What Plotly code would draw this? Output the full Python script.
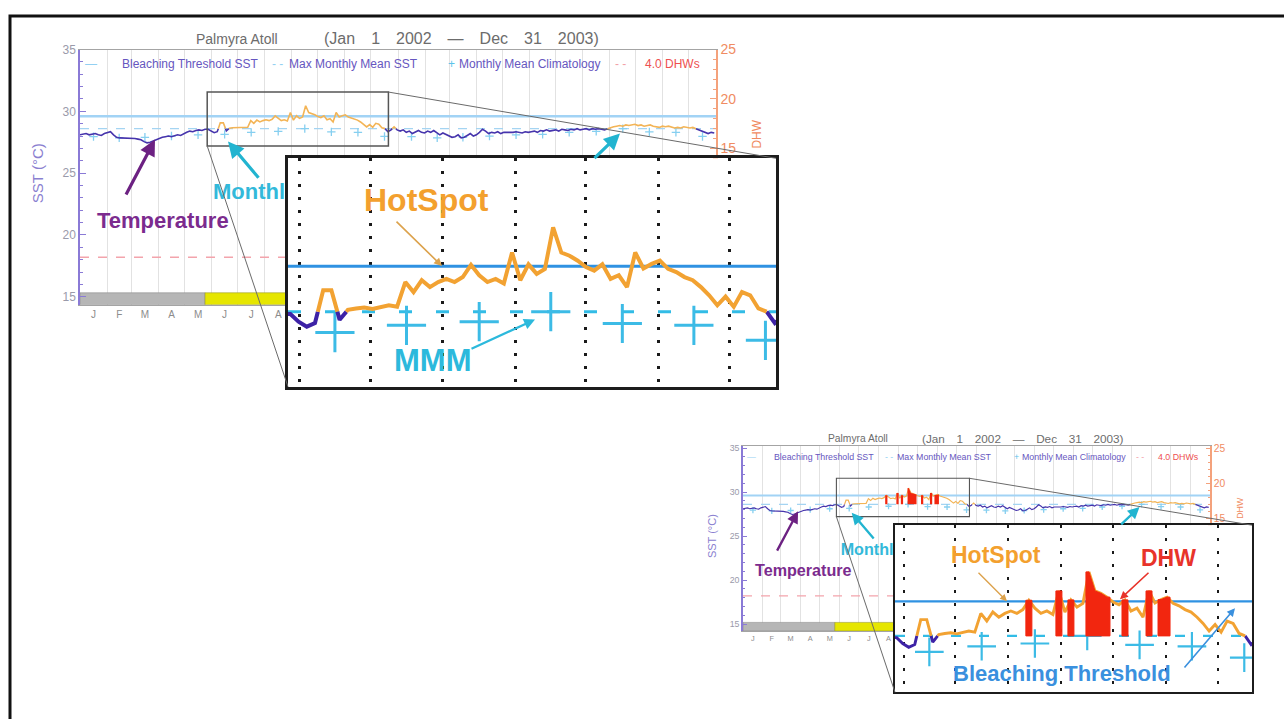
import datetime as dt
import plotly.graph_objects as go

W, H = 1284, 719
FONT = "Liberation Sans, Arial, Helvetica, sans-serif"

# ---------------------------------------------------------------- data
STATION = "Palmyra Atoll"
YEARS = [2002, 2003]
MONTH_LETTERS = ["J", "F", "M", "A", "M", "J", "J", "A", "S", "O", "N", "D"]
SST_TICKS = [15, 20, 25, 30, 35]
DHW_TICKS = [0, 5, 10, 15, 20, 25]

STEP_DAYS = 3.5  # twice-weekly SST composites, first one on 1 Jan 2002
sst = [
    28.10, 28.15, 28.20, 28.10, 28.15, 28.20, 28.10, 28.05, 28.20, 28.30,
    28.35, 28.10, 27.90, 27.85, 27.85, 27.80, 27.85, 27.80, 27.80, 27.75,
    27.70, 27.55, 27.45, 27.50, 27.60, 27.75, 27.85, 27.90, 27.95, 28.00,
    27.95, 28.05, 28.10, 28.05, 28.20, 28.30, 28.40, 28.35, 28.45, 28.50,
    28.45, 28.55, 28.55, 28.38, 28.27, 28.35, 29.07, 29.07, 28.42, 28.64,
    28.67, 28.69, 28.66, 28.71, 28.74, 28.71, 29.25, 29.03, 29.29, 29.14,
    29.25, 29.32, 29.25, 29.36, 29.63, 29.40, 29.25, 29.32, 29.22, 29.90,
    29.29, 29.64, 29.43, 29.54, 30.45, 29.90, 29.83, 29.72, 29.58, 29.50,
    29.64, 29.32, 29.40, 29.14, 29.90, 29.55, 29.65, 29.72, 29.54, 29.47,
    29.36, 29.29, 29.14, 28.96, 28.74, 28.93, 28.71, 29.03, 28.96, 28.67,
    28.60, 28.35, 28.50, 28.75, 28.50, 28.40, 28.50, 28.30, 28.40, 28.20,
    28.35, 28.45, 28.30, 28.25, 28.40, 28.30, 28.45, 28.30, 28.10, 28.25,
    28.15, 28.00, 27.90, 27.95, 28.10, 27.85, 27.90, 28.05, 28.20, 28.00,
    28.10, 28.30, 28.55, 28.40, 28.20, 28.30, 28.25, 28.35, 28.20, 28.30,
    28.30, 28.25, 28.30, 28.35, 28.30, 28.25, 28.35, 28.30, 28.35, 28.40,
    28.30, 28.45, 28.40, 28.50, 28.40, 28.45, 28.50, 28.40, 28.55, 28.50,
    28.45, 28.55, 28.50, 28.60, 28.50, 28.55, 28.60, 28.50, 28.60, 28.55,
    28.60, 28.55, 28.50, 28.60, 28.70, 28.75, 28.80, 28.85, 28.80, 28.90,
    28.85, 28.90, 28.95, 28.85, 28.90, 28.80, 28.85, 28.90, 28.80, 28.75,
    28.70, 28.80, 28.75, 28.80, 28.70, 28.65, 28.70, 28.65, 28.75, 28.70,
    28.65, 28.70, 28.60, 28.50, 28.40, 28.30, 28.20, 28.30, 28.25,
]

# monthly mean climatology, Jan..Dec
climatology = [27.95, 27.85, 27.90, 28.00, 28.10, 28.14, 28.30, 28.38, 28.60, 28.34, 28.30, 27.97]
MMM = 28.6
BLEACHING_THRESHOLD = 29.6
DHW_ALERT = 4.0

# stress level runs over the SST samples: (first sample, last sample, level)
stress_runs = [(0, 40, 0), (41, 103, 1), (104, 173, 0), (174, 208, 1)]
STRESS_NAMES = ["No Stress", "Bleaching Watch"]

ZOOM_START = dt.date(2002, 5, 27)
ZOOM_END = dt.date(2002, 12, 21)
ZOOM_BOX_SST = (27.2, 31.56)

# ---------------------------------------------------------------- styles
PURPLE_AXIS = "#8a7ad6"
ORANGE_AXIS = "#f4a27c"
SST_LOW = "#3d22a6"
SST_HIGH = "#f2a232"
THR_LIGHT = "#a2d3f5"
THR_DARK = "#2f92e2"
MMM_LIGHT = "#a4d4f2"
MMM_DARK = "#32bce6"
CLIM = "#3cbbe6"
DHW_FILL = "#f2260f"
LEG_TXT = "#6656c0"
STRESS_COLORS = ["#b6b6b6", "#e6e600"]
STRESS_EDGES = ["#8c8c8c", "#9a9a30"]

ORIGIN = dt.date(2002, 1, 1)


def day_of(d):
    return (d - ORIGIN).days


month_starts = [day_of(dt.date(y, m, 1)) for y in YEARS for m in range(1, 13)]
DAYS_TOTAL = day_of(dt.date(YEARS[-1] + 1, 1, 1))
month_edges = month_starts + [DAYS_TOTAL]
month_mids = [(a + b) / 2 for a, b in zip(month_edges[:-1], month_edges[1:])]
year_mids = [(day_of(dt.date(y, 1, 1)) + day_of(dt.date(y + 1, 1, 1))) / 2 for y in YEARS]
sample_days = [STEP_DAYS * i for i in range(len(sst))]
ZOOM_X = (day_of(ZOOM_START), day_of(ZOOM_END))


def with_crossings(xs, ys, level):
    pts = []
    for k, (x, y) in enumerate(zip(xs, ys)):
        if k:
            x0, y0 = xs[k - 1], ys[k - 1]
            if (y0 - level) * (y - level) < 0:
                f = (level - y0) / (y - y0)
                pts.append((x0 + f * (x - x0), level))
        pts.append((x, y))
    return pts


def split_at(xs, ys, level):
    pts = with_crossings(xs, ys, level)
    hi, lo = ([], []), ([], [])
    for (xa, ya), (xb, yb) in zip(pts, pts[1:]):
        tgt = hi if (ya + yb) / 2 > level else lo
        if not tgt[0] or tgt[0][-1] != xa:
            if tgt[0]:
                tgt[0].append(None)
                tgt[1].append(None)
            tgt[0].append(xa)
            tgt[1].append(ya)
        tgt[0].append(xb)
        tgt[1].append(yb)
    return hi, lo


def hot_blocks(xs, ys, level, base, half):
    """Filled blocks from the MMM up to the SST for runs of samples at or above the threshold."""
    px, py, run = [], [], []
    for x, y in list(zip(xs, ys)) + [(None, None)]:
        if y is not None and y >= level:
            run.append((x, y))
        else:
            if run:
                x0, x1 = run[0][0] - half, run[-1][0] + half
                px += [x0, x0] + [p[0] for p in run] + [x1, x1, x0, None]
                py += [base, run[0][1]] + [p[1] for p in run] + [run[-1][1], base, base, None]
            run = []
    return px, py


sst_hi, sst_lo = split_at(sample_days, sst, MMM)
dhw_x, dhw_y = hot_blocks(sample_days, sst, BLEACHING_THRESHOLD, MMM, STEP_DAYS / 2)

fig = go.Figure()
layout = dict(
    width=W, height=H, margin=dict(l=0, r=0, t=0, b=0, pad=0), autosize=False,
    paper_bgcolor="white", plot_bgcolor="white", showlegend=False,
    font=dict(family=FONT, color="#777"),
)
annotations, shapes = [], []


def axkey(a):
    return ("xaxis" if a[0] == "x" else "yaxis") + a[1:]


def paper(px, py):
    return px / W, 1 - py / H


def text(label, px, py, size, color, bold=False, anchor="center", angle=0):
    x, y = paper(px, py)
    annotations.append(dict(
        xref="paper", yref="paper", x=x, y=y, text=f"<b>{label}</b>" if bold else label,
        showarrow=False, xanchor=anchor, yanchor="middle", textangle=angle,
        font=dict(family=FONT, size=size, color=color)))


def arrow(tail, head, color, width, size=1.0):
    x, y = paper(*head)
    annotations.append(dict(
        xref="paper", yref="paper", x=x, y=y, text=" ", font=dict(size=1),
        showarrow=True, ax=tail[0] - head[0], ay=tail[1] - head[1],
        arrowhead=2, arrowsize=size, arrowwidth=width, arrowcolor=color,
        standoff=0, startstandoff=0))


DESIGN = (80, 42, 716, 300)          # reference layout of the main panel
DESIGN_INSET = (288, 152, 776, 383)


def add_panel(cfg):
    mx0, my0, mx1, my1 = cfg["main_box"]
    ix0, iy0, ix1, iy1 = cfg["inset_box"]
    s = (mx1 - mx0) / (DESIGN[2] - DESIGN[0])
    sy = (my1 - my0) / (DESIGN[3] - DESIGN[1])
    si = (ix1 - ix0) / (DESIGN_INSET[2] - DESIGN_INSET[0])
    xa, ya, ya2, xi, yi = cfg["axes"]
    lo, hi = cfg["sst_range"]

    def T(px, py):
        return mx0 + (px - DESIGN[0]) * s, my0 + (py - DESIGN[1]) * sy

    def dx(px):
        return (px - DESIGN[0]) / (DESIGN[2] - DESIGN[0]) * DAYS_TOTAL

    def dy(py):
        return hi - (py - DESIGN[1]) / (DESIGN[3] - DESIGN[1]) * (hi - lo)

    # ---- main panel axes
    layout[axkey(xa)] = dict(
        domain=[mx0 / W, mx1 / W], range=[0, DAYS_TOTAL], anchor=ya,
        tickmode="array", tickvals=month_mids, ticktext=MONTH_LETTERS * len(YEARS),
        ticks="", showgrid=False, zeroline=False, showline=True, mirror=True,
        linecolor="#a4a4a4", linewidth=1,
        tickfont=dict(family=FONT, size=10 * s, color="#8c8c8c"),
        minor=dict(tickmode="array", tickvals=month_starts, showgrid=True,
                   gridcolor="#e2e2e2", gridwidth=1, ticks=""))
    layout[axkey(ya)] = dict(
        domain=[1 - my1 / H, 1 - my0 / H], range=[lo, hi], anchor=xa,
        tickmode="array", tickvals=SST_TICKS, ticks="inside", ticklen=6 * s,
        tickcolor=PURPLE_AXIS, showline=True, linecolor=PURPLE_AXIS, linewidth=1.5,
        minor=dict(dtick=1, tick0=0, ticks="inside", ticklen=3 * s, tickcolor=PURPLE_AXIS),
        showgrid=False, zeroline=False,
        tickfont=dict(family=FONT, size=12 * s, color="#9a9aaa"))
    layout[axkey(ya2)] = dict(
        overlaying=ya, side="right", anchor=xa, range=cfg["dhw_range"],
        tickmode="array", tickvals=DHW_TICKS, ticks="inside", ticklen=6 * s,
        tickcolor=ORANGE_AXIS, showline=True, linecolor=ORANGE_AXIS, linewidth=1.5,
        minor=dict(dtick=1, tick0=0, ticks="inside", ticklen=3 * s, tickcolor=ORANGE_AXIS),
        showgrid=False, zeroline=False,
        tickfont=dict(family=FONT, size=14 * s, color="#f08c62"))

    common = dict(xaxis=xa, yaxis=ya, hoverinfo="skip")
    fig.add_trace(go.Scatter(x=[0, DAYS_TOTAL], y=[BLEACHING_THRESHOLD] * 2, mode="lines",
                             line=dict(color=THR_LIGHT, width=2.5 * s), **common))
    fig.add_trace(go.Scatter(x=[0, DAYS_TOTAL], y=[MMM] * 2, mode="lines",
                             line=dict(color=MMM_LIGHT, width=1.2, dash="dash"), **common))
    fig.add_trace(go.Scatter(x=[0, DAYS_TOTAL], y=[DHW_ALERT] * 2, mode="lines",
                             line=dict(color="#f3a4ac", width=1.5 * s, dash="dash"),
                             xaxis=xa, yaxis=ya2, hoverinfo="skip"))
    fig.add_trace(go.Scatter(x=month_mids, y=climatology * len(YEARS), mode="markers",
                             marker=dict(symbol="cross-thin", size=6 * s,
                                         line=dict(width=1.3, color="#86cff0")), **common))
    fig.add_trace(go.Scatter(x=sst_lo[0], y=sst_lo[1], mode="lines",
                             line=dict(color="#4634ac", width=1.6 * s), **common))
    fig.add_trace(go.Scatter(x=sst_hi[0], y=sst_hi[1], mode="lines",
                             line=dict(color="#f3b456", width=1.6 * s), **common))
    if cfg["show_dhw"]:
        fig.add_trace(go.Scatter(x=dhw_x, y=dhw_y, mode="lines", fill="toself",
                                 fillcolor=DHW_FILL, line=dict(width=0, color=DHW_FILL), **common))

    # stress bar along the bottom of the panel
    bar_top = dy(288)
    for a, b, level in stress_runs:
        d0, d1 = sample_days[a], sample_days[b] + STEP_DAYS
        fig.add_trace(go.Bar(x=[(d0 + d1) / 2], y=[bar_top - lo], base=[lo], width=[d1 - d0],
                             marker=dict(color=STRESS_COLORS[level],
                                         line=dict(color=STRESS_EDGES[level], width=0.6)),
                             **common))

    # year labels and stress legend under the axis
    fig.add_trace(go.Scatter(x=year_mids, y=[dy(327)] * len(YEARS), mode="text",
                             text=[str(y) for y in YEARS], cliponaxis=False,
                             textfont=dict(family=FONT, size=12.5 * s, color="#9c9c9c"), **common))
    for k, (bx, tx) in enumerate([(118, 132), (214, 227)]):
        fig.add_trace(go.Scatter(x=[dx(bx)], y=[dy(345)], mode="markers", cliponaxis=False,
                                 marker=dict(symbol="square", size=13 * s, color=STRESS_COLORS[k],
                                             line=dict(color=STRESS_EDGES[k], width=1)), **common))
        fig.add_trace(go.Scatter(x=[dx(tx)], y=[dy(345)], mode="text", text=[STRESS_NAMES[k]],
                                 textposition="middle right", cliponaxis=False,
                                 textfont=dict(family=FONT, size=12 * s, color="#8a8a8a"), **common))
    fig.add_trace(go.Scatter(x=[dx(213)], y=[dy(188)], mode="text", text=["<b>Monthly Mean</b>"],
                             textposition="middle right", cliponaxis=False,
                             textfont=dict(family=FONT, size=22 * s, color="#33b9da"), **common))

    # ---- inset axes
    layout[axkey(xi)] = dict(
        domain=[ix0 / W, ix1 / W], range=list(ZOOM_X), anchor=yi,
        showticklabels=False, ticks="", showgrid=False, zeroline=False,
        showline=True, mirror=True, linecolor="#1c1c1c", linewidth=3 * si,
        minor=dict(tickmode="array", tickvals=month_starts, showgrid=True, ticks="",
                   gridcolor="#1a1a1a", gridwidth=2.6 * si, griddash="3px,10px"))
    layout[axkey(yi)] = dict(
        domain=[1 - iy1 / H, 1 - iy0 / H], range=list(cfg["inset_range"]), anchor=xi,
        showticklabels=False, ticks="", showgrid=False, zeroline=False,
        showline=True, mirror=True, linecolor="#1c1c1c", linewidth=3 * si)

    ic = dict(xaxis=xi, yaxis=yi, hoverinfo="skip")
    fig.add_trace(go.Scatter(x=list(ZOOM_X), y=[BLEACHING_THRESHOLD] * 2, mode="lines",
                             line=dict(color=THR_DARK, width=3 * si), **ic))
    fig.add_trace(go.Scatter(x=list(ZOOM_X), y=[MMM] * 2, mode="lines",
                             line=dict(color=MMM_DARK, width=3 * si,
                                       dash=f"{13 * si:.0f}px,{24 * si:.0f}px"), **ic))
    fig.add_trace(go.Scatter(x=month_mids, y=climatology * len(YEARS), mode="markers",
                             marker=dict(symbol="cross-thin", size=28 * si,
                                         line=dict(width=3 * si, color=CLIM)), **ic))
    fig.add_trace(go.Scatter(x=sst_lo[0], y=sst_lo[1], mode="lines",
                             line=dict(color=SST_LOW, width=4 * si), **ic))
    fig.add_trace(go.Scatter(x=sst_hi[0], y=sst_hi[1], mode="lines",
                             line=dict(color=SST_HIGH, width=4 * si), **ic))
    if cfg["show_dhw"]:
        fig.add_trace(go.Scatter(x=dhw_x, y=dhw_y, mode="lines", fill="toself",
                                 fillcolor=DHW_FILL, line=dict(width=1, color=DHW_FILL), **ic))

    # ---- zoom box and connector lines
    shapes.append(dict(type="rect", xref=xa, yref=ya, x0=ZOOM_X[0], x1=ZOOM_X[1],
                       y0=ZOOM_BOX_SST[0], y1=ZOOM_BOX_SST[1], layer="above",
                       line=dict(color="#555", width=1.5 * s)))

    def page_x(d):
        return mx0 + d / DAYS_TOTAL * (mx1 - mx0)

    def page_y(v):
        return my0 + (hi - v) / (hi - lo) * (my1 - my0)

    for (px0, py0), (px1, py1) in [
        ((page_x(ZOOM_X[1]), page_y(ZOOM_BOX_SST[1])), (ix1, iy0)),
        ((page_x(ZOOM_X[0]), page_y(ZOOM_BOX_SST[0])), (ix0, iy1)),
    ]:
        a0, b0 = paper(px0, py0)
        a1, b1 = paper(px1, py1)
        shapes.append(dict(type="line", xref="paper", yref="paper", x0=a0, y0=b0, x1=a1, y1=b1,
                           layer="above", line=dict(color="#6a6a6a", width=1)))

    # ---- titles and legend strip
    text(STATION, *T(237, 31), 14 * s, "#6c6c6c")
    gap = "\u2002\u2002"
    period = gap.join(["(Jan", "1", "2002", "\u2014", "Dec", "31", "2003)"])
    text(period, *T(461, 31), 16 * s, "#6c6c6c")
    text("SST (°C)", *T(37, 167), 15 * s, "#8a80d0", angle=-90)
    text("DHW", *T(757, 128), 12 * s, "#f08a60", angle=-90)
    for label, lx, color in [("—", 83, "#93d0f2"), ("Bleaching Threshold SST", 120, LEG_TXT),
                             ("- -", 270, "#93d0f2"), ("Max Monthly Mean SST", 287, LEG_TXT),
                             ("+", 446, "#5cc2ea"), ("Monthly Mean Climatology", 457, LEG_TXT),
                             ("- -", 613, "#f2a0a8"), ("4.0 DHWs", 643, "#ee5050")]:
        text(label, *T(lx, 57), 12 * s, color, anchor="left")

    text("Temperature", *T(163, 215), 22 * s, "#7b2b8e", bold=True)
    arrow(T(125, 190), T(155, 133), "#6c2182", 3.2 * s)
    arrow(T(260, 173), T(228, 135), "#22b4d0", 3.2 * s)
    arrow(T(593, 153), T(620, 127), "#22b4d0", 3.2 * s)

    for label, pos, size, color in cfg["labels"]:
        text(label, *pos, size, color, bold=True)
    for tail, head, color, width in cfg["arrows"]:
        arrow(tail, head, color, width)


ORANGE_TXT = "#f3a02e"
CYAN_TXT = "#2cb9dc"
RED_TXT = "#e8332a"
BLUE_TXT = "#3a90de"

TOP = dict(
    main_box=(80, 42, 716, 300), inset_box=(288, 152, 776, 383),
    sst_range=(14.36, 35.0), dhw_range=(-0.8, 25.0), inset_range=(26.95, 31.97),
    axes=("x", "y", "y2", "x2", "y3"), show_dhw=False,
    labels=[("HotSpot", (426, 194), 32, ORANGE_TXT), ("MMM", (432, 356), 31, CYAN_TXT)],
    arrows=[((395, 215), (442, 261), "#dca24c", 1.6), ((470, 345), (535, 315), "#2cb9dc", 2.2)],
)
BOTTOM = dict(
    main_box=(743, 443, 1210, 630), inset_box=(895, 523, 1252, 692),
    sst_range=(14.21, 35.22), dhw_range=(-0.98, 25.28), inset_range=(26.97, 31.8),
    axes=("x3", "y4", "y5", "x4", "y6"), show_dhw=True,
    labels=[("HotSpot", (996, 553), 23, ORANGE_TXT), ("DHW", (1168, 556), 23, RED_TXT),
            ("Bleaching Threshold", (1062, 673), 22, BLUE_TXT)],
    arrows=[((977, 570), (1007, 600), "#dca24c", 1.4), ((1150, 570), (1120, 598), RED_TXT, 1.6),
            ((1183, 668), (1235, 607), BLUE_TXT, 1.6)],
)

add_panel(TOP)
add_panel(BOTTOM)

# outer frame
fx, fy = paper(10, 8)
shapes.append(dict(type="rect", xref="paper", yref="paper", x0=fx, y0=fy, x1=1.02, y1=-0.02,
                   layer="above", line=dict(color="#111", width=3)))

layout["annotations"] = annotations
layout["shapes"] = shapes
fig.update_layout(**layout)
fig.write_html("out.html")
